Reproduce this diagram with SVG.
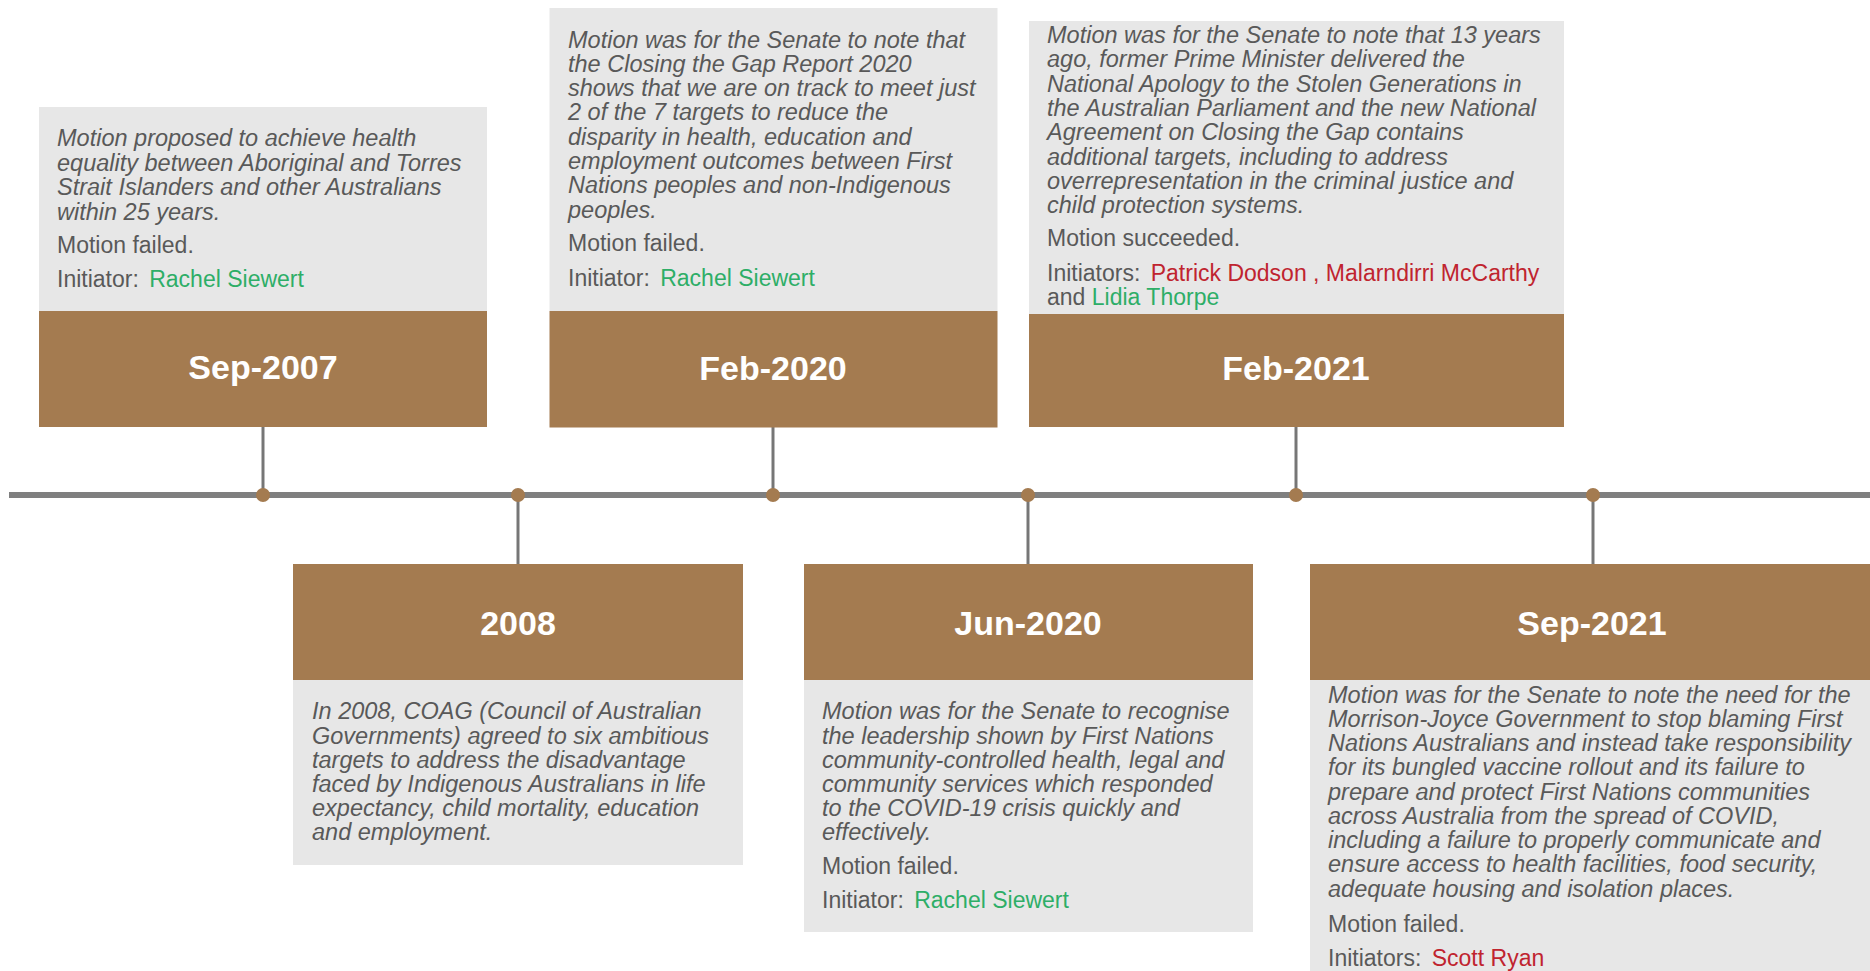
<svg xmlns="http://www.w3.org/2000/svg" width="1870" height="971" viewBox="0 0 1870 971">
<style>
.card{fill:#E7E7E7}
.head{fill:#A47B50}
.date{font-family:"Liberation Sans",Arial,sans-serif;font-weight:bold;font-size:34px;fill:#FFFFFF;text-anchor:middle}
.body{font-family:"Liberation Sans",Arial,sans-serif;font-style:italic;font-size:23.5px;fill:#595959}
.plain{font-family:"Liberation Sans",Arial,sans-serif;font-size:23px;fill:#595959}
.grn{fill:#2EAE67}
.red{fill:#C0242F}
.axis{stroke:#7F7F7F;stroke-width:6;fill:none}
.stem{stroke:#767676;stroke-width:3;fill:none}
.dot{fill:#A47B50}
</style>
<rect width="1870" height="971" fill="#FFFFFF"/>
<g id="connectors">
  <line class="axis" x1="9" y1="495" x2="1870" y2="495"/>
  <line class="stem" x1="263" y1="427" x2="263" y2="495"/>
  <line class="stem" x1="518" y1="495" x2="518" y2="564"/>
  <line class="stem" x1="773" y1="427" x2="773" y2="495"/>
  <line class="stem" x1="1028" y1="495" x2="1028" y2="564"/>
  <line class="stem" x1="1296" y1="427" x2="1296" y2="495"/>
  <line class="stem" x1="1593" y1="495" x2="1593" y2="564"/>
  <circle class="dot" cx="263" cy="495" r="7"/>
  <circle class="dot" cx="518" cy="495" r="7"/>
  <circle class="dot" cx="773" cy="495" r="7"/>
  <circle class="dot" cx="1028" cy="495" r="7"/>
  <circle class="dot" cx="1296" cy="495" r="7"/>
  <circle class="dot" cx="1593" cy="495" r="7"/>
</g>
<g id="sep-2007">
  <rect class="card" x="39" y="107" width="448" height="204"/>
  <rect class="head" x="39" y="311" width="448" height="116"/>
  <text class="date" x="263" y="379">Sep-2007</text>
  <text class="body" x="57" y="146">Motion proposed to achieve health</text>
  <text class="body" x="57" y="170.5">equality between Aboriginal and Torres</text>
  <text class="body" x="57" y="195">Strait Islanders and other Australians</text>
  <text class="body" x="57" y="219.5">within 25 years.</text>
  <text class="plain" x="57" y="252.7">Motion failed.</text>
  <text class="plain" x="57" y="286.7">Initiator: <tspan class="grn" dx="4">Rachel Siewert</tspan></text>
</g>
<g id="y2008">
  <rect class="head" x="293" y="564" width="450" height="116"/>
  <rect class="card" x="293" y="680" width="450" height="185"/>
  <text class="date" x="518" y="635">2008</text>
  <text class="body" x="312" y="719.3">In 2008, COAG (Council of Australian</text>
  <text class="body" x="312" y="743.5">Governments) agreed to six ambitious</text>
  <text class="body" x="312" y="767.7">targets to address the disadvantage</text>
  <text class="body" x="312" y="791.9">faced by Indigenous Australians in life</text>
  <text class="body" x="312" y="816.1">expectancy, child mortality, education</text>
  <text class="body" x="312" y="840.3">and employment.</text>
</g>
<g id="feb-2020">
  <rect class="card" x="549.5" y="8" width="448" height="303"/>
  <rect class="head" x="549.5" y="311" width="448" height="116.5"/>
  <text class="date" x="773" y="380">Feb-2020</text>
  <text class="body" x="568" y="47.5">Motion was for the Senate to note that</text>
  <text class="body" x="568" y="71.8">the Closing the Gap Report 2020</text>
  <text class="body" x="568" y="96.1">shows that we are on track to meet just</text>
  <text class="body" x="568" y="120.4">2 of the 7 targets to reduce the</text>
  <text class="body" x="568" y="144.7">disparity in health, education and</text>
  <text class="body" x="568" y="169">employment outcomes between First</text>
  <text class="body" x="568" y="193.3">Nations peoples and non-Indigenous</text>
  <text class="body" x="568" y="217.6">peoples.</text>
  <text class="plain" x="568" y="250.7">Motion failed.</text>
  <text class="plain" x="568" y="286">Initiator: <tspan class="grn" dx="4">Rachel Siewert</tspan></text>
</g>
<g id="jun-2020">
  <rect class="head" x="804" y="564" width="449" height="116"/>
  <rect class="card" x="804" y="680" width="449" height="252"/>
  <text class="date" x="1028" y="635">Jun-2020</text>
  <text class="body" x="822" y="719.3">Motion was for the Senate to recognise</text>
  <text class="body" x="822" y="743.5">the leadership shown by First Nations</text>
  <text class="body" x="822" y="767.7">community-controlled health, legal and</text>
  <text class="body" x="822" y="791.9">community services which responded</text>
  <text class="body" x="822" y="816.1">to the COVID-19 crisis quickly and</text>
  <text class="body" x="822" y="840.3">effectively.</text>
  <text class="plain" x="822" y="874.3">Motion failed.</text>
  <text class="plain" x="822" y="907.7">Initiator: <tspan class="grn" dx="4">Rachel Siewert</tspan></text>
</g>
<g id="feb-2021">
  <rect class="card" x="1029" y="21" width="535" height="293"/>
  <rect class="head" x="1029" y="314" width="535" height="113"/>
  <text class="date" x="1296" y="380">Feb-2021</text>
  <text class="body" x="1047" y="43">Motion was for the Senate to note that 13 years</text>
  <text class="body" x="1047" y="67.3">ago, former Prime Minister delivered the</text>
  <text class="body" x="1047" y="91.6">National Apology to the Stolen Generations in</text>
  <text class="body" x="1047" y="115.9">the Australian Parliament and the new National</text>
  <text class="body" x="1047" y="140.2">Agreement on Closing the Gap contains</text>
  <text class="body" x="1047" y="164.5">additional targets, including to address</text>
  <text class="body" x="1047" y="188.8">overrepresentation in the criminal justice and</text>
  <text class="body" x="1047" y="213.1">child protection systems.</text>
  <text class="plain" x="1047" y="246">Motion succeeded.</text>
  <text class="plain" x="1047" y="280.7">Initiators: <tspan class="red" dx="4">Patrick Dodson , Malarndirri McCarthy</tspan></text>
  <text class="plain" x="1047" y="305">and <tspan class="grn">Lidia Thorpe</tspan></text>
</g>
<g id="sep-2021">
  <rect class="head" x="1310" y="564" width="560" height="116"/>
  <rect class="card" x="1310" y="680" width="560" height="291"/>
  <text class="date" x="1592" y="635">Sep-2021</text>
  <text class="body" x="1328" y="702.7">Motion was for the Senate to note the need for the</text>
  <text class="body" x="1328" y="726.9">Morrison-Joyce Government to stop blaming First</text>
  <text class="body" x="1328" y="751.2">Nations Australians and instead take responsibility</text>
  <text class="body" x="1328" y="775.4">for its bungled vaccine rollout and its failure to</text>
  <text class="body" x="1328" y="799.7">prepare and protect First Nations communities</text>
  <text class="body" x="1328" y="823.9">across Australia from the spread of COVID,</text>
  <text class="body" x="1328" y="848.2">including a failure to properly communicate and</text>
  <text class="body" x="1328" y="872.4">ensure access to health facilities, food security,</text>
  <text class="body" x="1328" y="896.7">adequate housing and isolation places.</text>
  <text class="plain" x="1328" y="932.3">Motion failed.</text>
  <text class="plain" x="1328" y="965.5">Initiators: <tspan class="red" dx="4">Scott Ryan</tspan></text>
</g>
</svg>
